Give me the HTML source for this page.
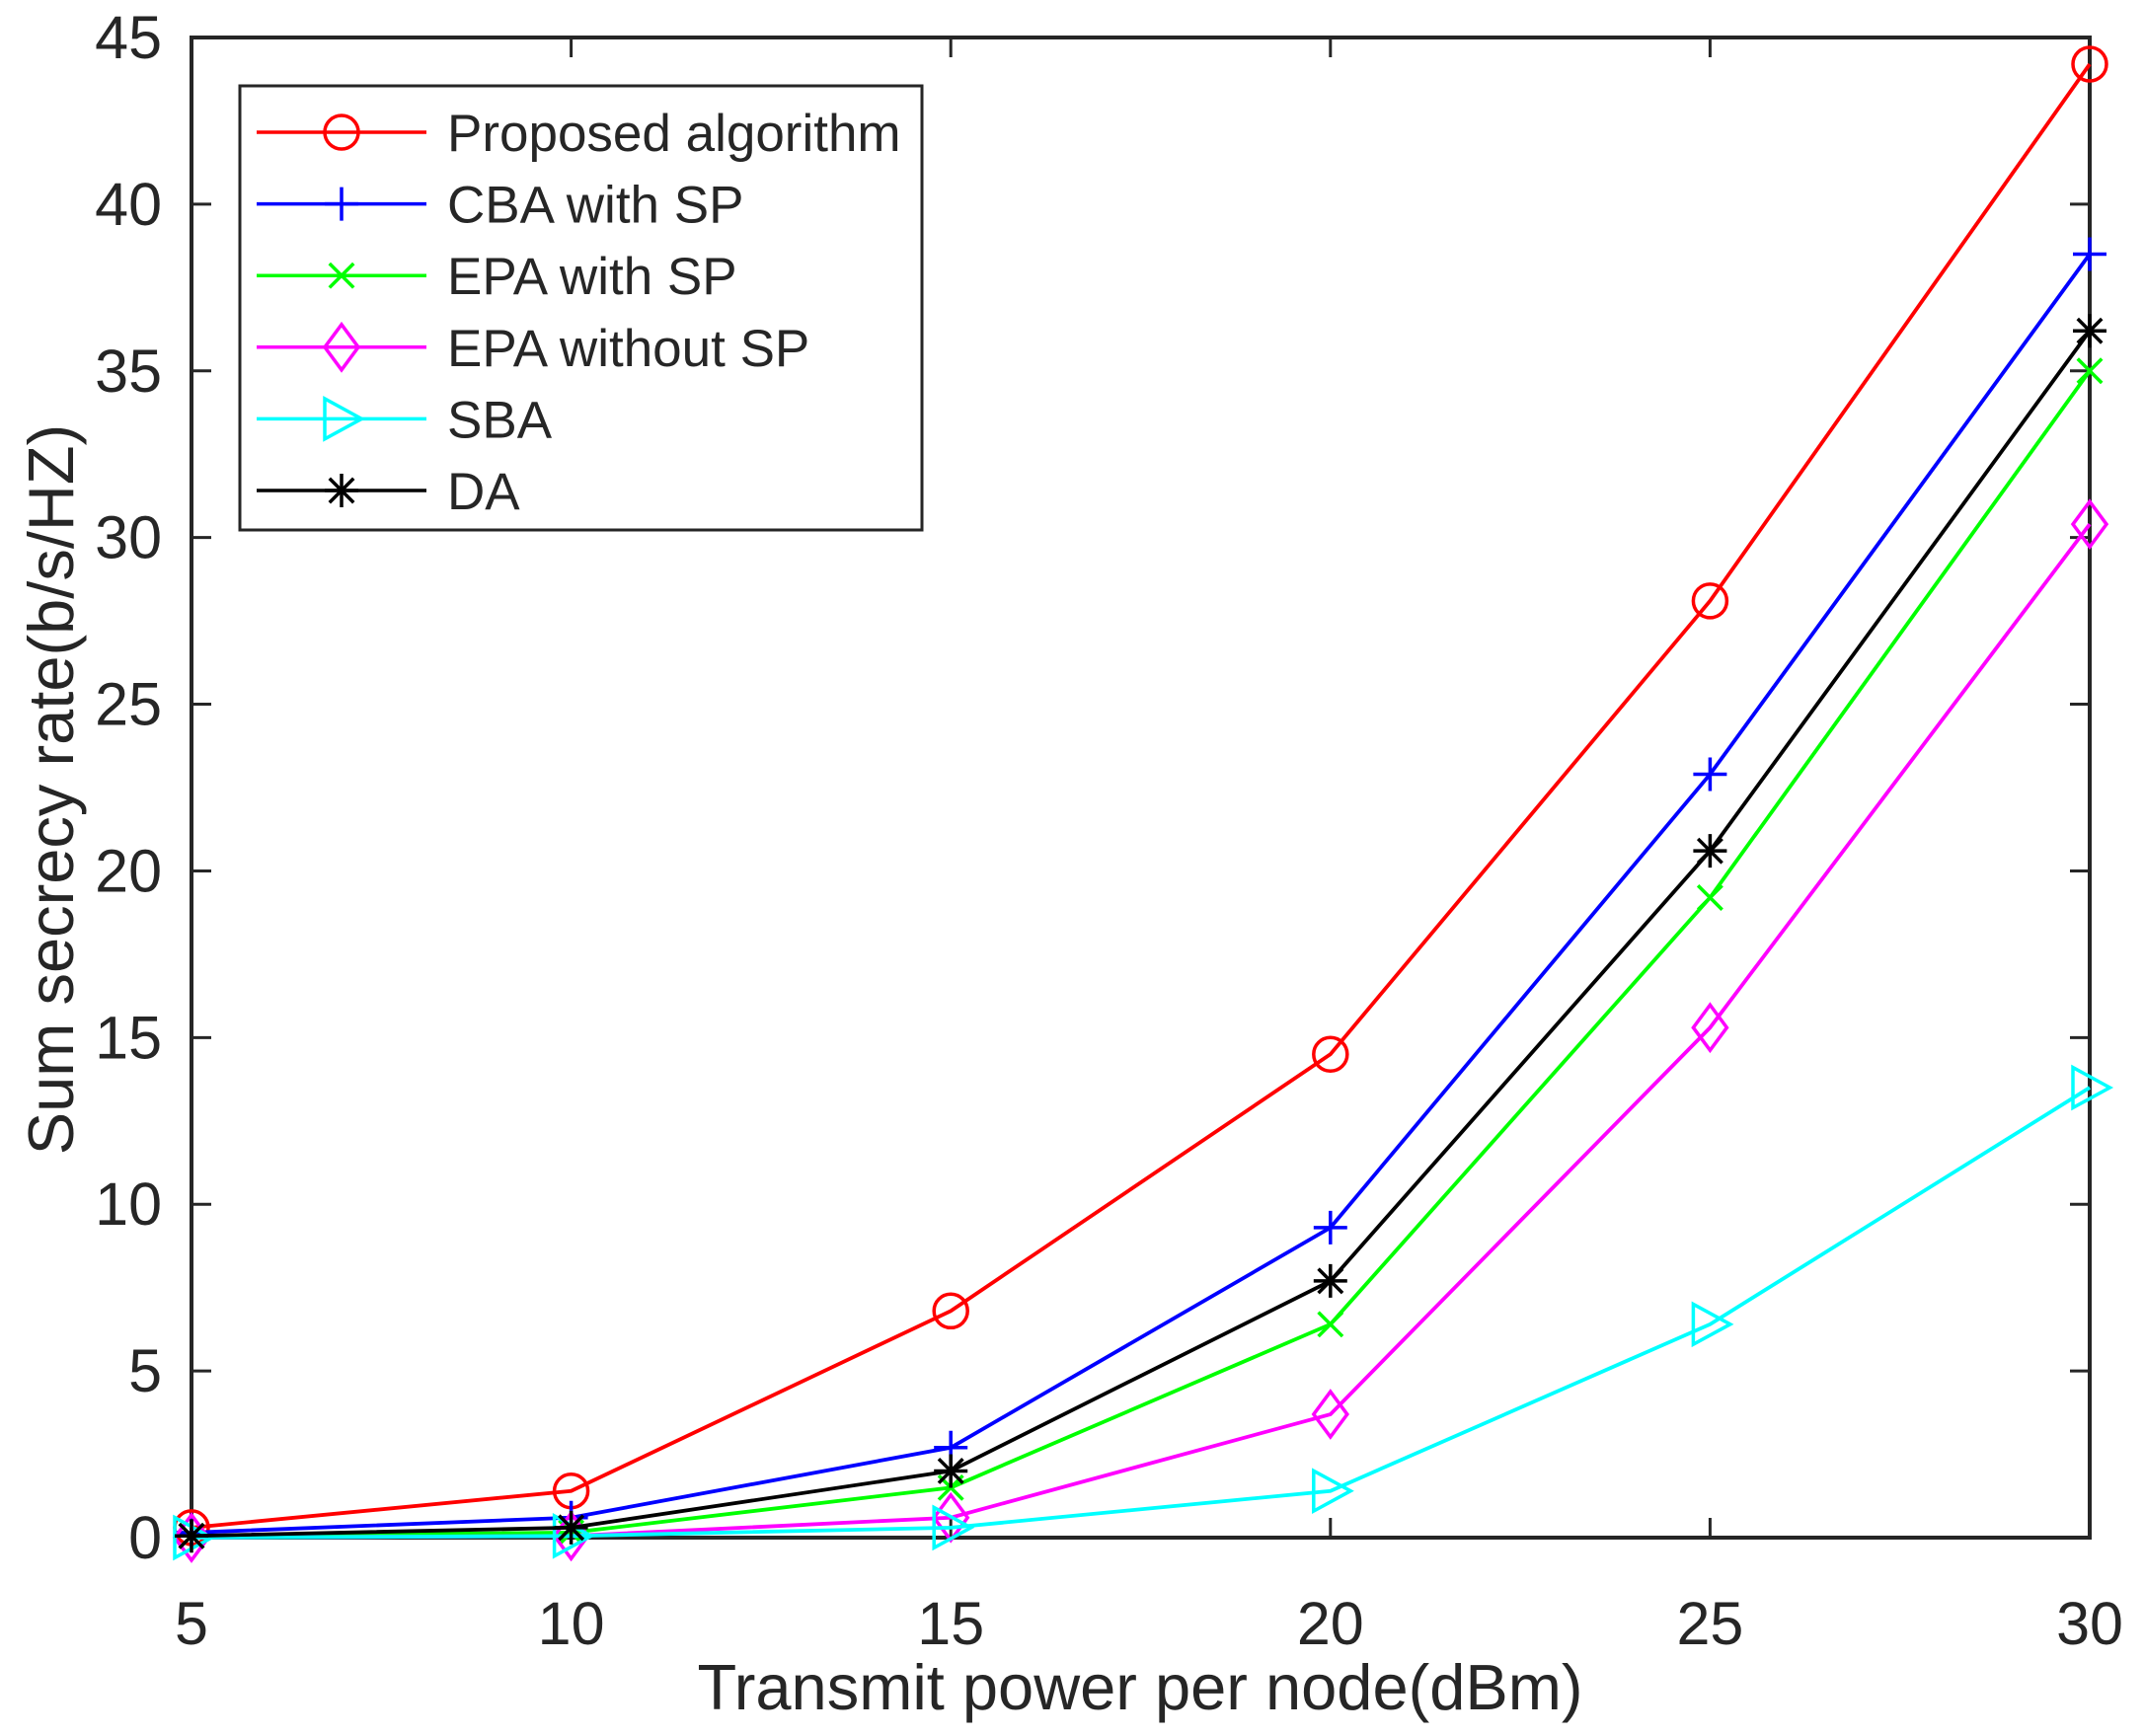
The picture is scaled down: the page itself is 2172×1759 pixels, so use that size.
<!DOCTYPE html>
<html><head><meta charset="utf-8"><style>body{margin:0;background:#fff}svg{display:block}text{font-family:"Liberation Sans",sans-serif;fill:#262626}</style></head>
<body>
<svg id="c" width="2172" height="1759" xmlns="http://www.w3.org/2000/svg"></svg>
<script>
const xCats=[5,10,15,20,25,30];
const yTicks=[0,5,10,15,20,25,30,35,40,45];
const sProposed=[0.3,1.4,6.8,14.5,28.1,44.2];
const sCBA=[0.15,0.6,2.7,9.3,22.9,38.5];
const sEPA=[0.05,0.15,1.5,6.4,19.2,35.0];
const sEPAno=[0,0.05,0.6,3.7,15.3,30.4];
const sSBA=[0,0.05,0.3,1.4,6.4,13.5];
const sDA=[0.05,0.3,2.0,7.7,20.6,36.2];
const seriesNames=["Proposed algorithm","CBA with SP","EPA with SP","EPA without SP","SBA","DA"];
const L=194,R=2117,T=38,B=1558;
const X=v=>L+(v-5)/25*(R-L), Y=v=>B-v/45*(B-T);
const svg=document.getElementById('c');const NS='http://www.w3.org/2000/svg';
function mk(t,a,p){const e=document.createElementNS(NS,t);for(const k in a)e.setAttribute(k,a[k]);(p||svg).appendChild(e);return e;}
const rect=mk('rect',{x:L,y:T,width:R-L,height:B-T,fill:'none',stroke:'#262626','stroke-width':4});


xCats.forEach(v=>{const x=X(v);
 mk('line',{x1:x,y1:B,x2:x,y2:B-20,stroke:'#262626','stroke-width':3});
 mk('line',{x1:x,y1:T,x2:x,y2:T+20,stroke:'#262626','stroke-width':3});
 const t=mk('text',{x:x,y:1666,'font-size':61,'text-anchor':'middle'});t.textContent=v;
 
 });
yTicks.forEach(v=>{const y=Y(v);
 mk('line',{x1:L,y1:y,x2:L+20,y2:y,stroke:'#262626','stroke-width':3});
 mk('line',{x1:R,y1:y,x2:R-20,y2:y,stroke:'#262626','stroke-width':3});
 const t=mk('text',{x:164,y:y+21,'font-size':61,'text-anchor':'end'});t.textContent=v;
 
 });
let t=mk('text',{x:1155,y:1732,'font-size':65,'text-anchor':'middle'});t.textContent='Transmit power per node(dBm)';


t=mk('text',{x:0,y:0,'font-size':65,'text-anchor':'middle',transform:'translate(74,800) rotate(-90)'});t.textContent='Sum secrecy rate(b/s/HZ)';


const colors=['#ff0000','#0000ff','#00ff00','#ff00ff','#00ffff','#000000'];
const kinds=['o','+','x','d','>','*'];
function marker(g,k,x,y,c){const s=17,a={fill:'none',stroke:c,'stroke-width':3.5};
 if(k=='o')mk('circle',Object.assign({cx:x,cy:y,r:s},a),g);
 if(k=='+'||k=='*'){mk('path',Object.assign({d:`M${x-s} ${y}H${x+s}M${x} ${y-s}V${y+s}`},a),g);}
 if(k=='x'||k=='*'){const q=s*0.72;mk('path',Object.assign({d:`M${x-q} ${y-q}L${x+q} ${y+q}M${x-q} ${y+q}L${x+q} ${y-q}`},a),g);}
 if(k=='d')mk('path',Object.assign({d:`M${x} ${y-s*1.35}L${x+s} ${y}L${x} ${y+s*1.35}L${x-s} ${y}Z`},a),g);
 if(k=='>')mk('path',Object.assign({d:`M${x+s*1.2} ${y}L${x-s} ${y-s*1.2}L${x-s} ${y+s*1.2}Z`},a),g);}
const all=[sProposed,sCBA,sEPA,sEPAno,sSBA,sDA];
all.forEach((s,i)=>{const g=mk('g',{});
 
 
 mk('polyline',{points:s.map((v,j)=>X(xCats[j])+','+Y(v)).join(' '),fill:'none',stroke:colors[i],'stroke-width':3.8},g);
 s.forEach((v,j)=>marker(g,kinds[i],X(xCats[j]),Y(v),colors[i]));});
const lg=mk('g',{});


mk('rect',{x:243,y:87,width:691,height:450,fill:'#fff',stroke:'#262626','stroke-width':3},lg);
seriesNames.forEach((n,i)=>{const y=134+i*72.6;const g=mk('g',{},lg);
 
 
 mk('line',{x1:260,y1:y,x2:432,y2:y,stroke:colors[i],'stroke-width':3.5},g);
 marker(g,kinds[i],346,y,colors[i]);
 const tt=mk('text',{x:453,y:y+19,'font-size':53},g);tt.textContent=n;});
</script>
</body></html>
